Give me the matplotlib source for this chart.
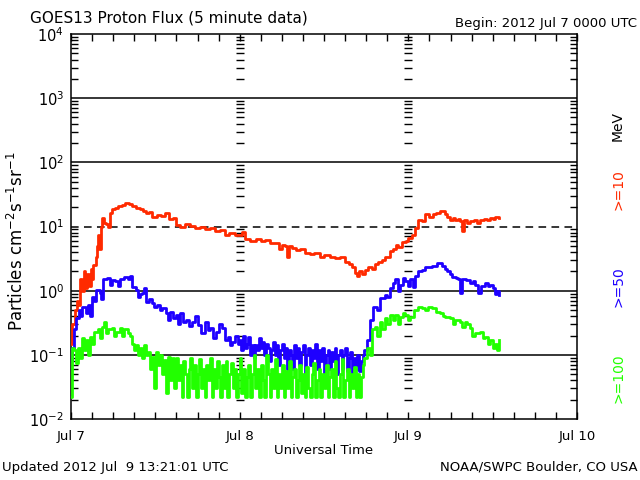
import matplotlib
matplotlib.use("Agg")
import matplotlib.pyplot as plt
import numpy as np
from matplotlib.ticker import FixedLocator, NullFormatter

# hours since 2012 Jul 7 00:00 UTC, flux (particles cm^-2 s^-1 sr^-1)
red_data = [
    (0.0, 0.15), (0.2, 0.3), (0.5, 0.5), (0.8, 0.7), (1.0, 0.6), (1.3, 1.5), (1.5, 1.0), (1.8, 2.0),
    (2.0, 1.1), (2.3, 1.8), (2.5, 1.2), (2.8, 2.2), (3.0, 1.5), (3.2, 2.5), (3.5, 3.4), (3.7, 4.9),
    (3.9, 7.5), (4.0, 4.4), (4.2, 10), (4.4, 13.4), (4.7, 11.5), (5.0, 11.0), (5.3, 10.0), (5.5, 16.5),
    (5.8, 18.5), (6.3, 19.5), (6.7, 20.5), (7.2, 22), (7.7, 23.5), (8.2, 22.5), (8.7, 21), (9.3, 19.5),
    (9.8, 18.5), (10.3, 17.5), (10.7, 16.5), (11.1, 17), (11.5, 14.3), (12.2, 15), (12.8, 14.5),
    (13.4, 16.5), (14.0, 12.9), (14.5, 13.5), (15.0, 10.7), (15.5, 10.0), (16.2, 10.8), (17.0, 10.2),
    (17.6, 9.5), (18.3, 10), (19.0, 9.2), (19.8, 9.6), (20.5, 8.5), (21.2, 8.8), (21.9, 7.5), (22.5, 7.8),
    (23.3, 7.5), (24.0, 7.5), (24.3, 8.1), (24.8, 6.5), (25.5, 6.0), (26.3, 6.3), (27.0, 6.0), (27.6, 6.2),
    (28.3, 5.5), (29.0, 5.6), (29.6, 4.4), (30.0, 5.2), (30.4, 4.9), (30.8, 3.4), (31.0, 5.0), (31.4, 4.7),
    (32.0, 4.3), (32.6, 4.5), (33.3, 3.9), (34.0, 3.7), (34.6, 3.8), (35.4, 3.4), (36.0, 3.6), (36.8, 3.4),
    (37.5, 3.2), (38.3, 3.3), (39.0, 2.8), (39.5, 2.6), (40.0, 2.3), (40.4, 1.9), (40.7, 1.7), (41.0, 2.0),
    (41.4, 1.8), (41.8, 2.1), (42.3, 2.3), (42.8, 2.2), (43.3, 2.6), (43.7, 2.8), (44.2, 3.0), (44.7, 3.4),
    (45.0, 3.3), (45.4, 4.1), (45.8, 4.5), (46.2, 5.2), (46.6, 4.8), (47.1, 5.8), (47.6, 6.0), (48.0, 6.7),
    (48.5, 7.5), (49.0, 9.6), (49.4, 12.8), (49.9, 12), (50.4, 15.4), (51.0, 14.3), (51.5, 15.5),
    (51.9, 16.5), (52.5, 17.2), (53.2, 15.4), (53.5, 14), (53.9, 12.8), (54.3, 13.5), (54.6, 12.8),
    (55.0, 13), (55.3, 12), (55.6, 8.4), (55.9, 12.5), (56.3, 11.5), (56.8, 12), (57.3, 12.5), (57.7, 11.5),
    (58.2, 12.8), (58.7, 13.2), (59.2, 12.5), (59.6, 13.8), (60.0, 13), (60.4, 14), (60.9, 13.8),
]

blue_data = [
    (0.0, 0.08), (0.2, 0.13), (0.4, 0.25), (0.7, 0.38), (1.1, 0.5), (1.4, 0.4), (1.6, 0.56), (2.1, 0.45),
    (2.4, 0.6), (2.7, 0.4), (3.0, 0.8), (3.3, 0.7), (3.6, 1.04), (4.1, 0.93), (4.3, 0.75), (4.6, 1.5),
    (5.1, 1.6), (5.5, 1.24), (5.9, 1.45), (6.3, 1.4), (6.7, 1.2), (7.0, 1.5), (7.5, 1.65), (8.1, 1.5),
    (8.4, 1.7), (8.7, 1.15), (9.2, 1.04), (9.5, 0.8), (9.8, 0.9), (10.1, 0.93), (10.4, 1.1), (10.7, 0.67),
    (11.1, 0.75), (11.5, 0.65), (11.8, 0.55), (12.2, 0.6), (12.6, 0.5), (13.0, 0.54), (13.5, 0.45),
    (13.8, 0.35), (14.1, 0.47), (14.5, 0.38), (14.9, 0.42), (15.2, 0.3), (15.5, 0.45), (16.0, 0.33),
    (16.4, 0.35), (16.8, 0.28), (17.2, 0.32), (17.6, 0.4), (18.1, 0.29), (18.5, 0.22), (19.1, 0.32),
    (19.5, 0.24), (19.8, 0.26), (20.2, 0.18), (20.6, 0.23), (21.0, 0.3), (21.5, 0.26), (21.9, 0.17),
    (22.3, 0.19), (22.6, 0.14), (22.9, 0.16), (23.4, 0.2), (23.7, 0.15),
    (24.0, 0.17), (24.25, 0.12), (24.5, 0.2), (24.75, 0.13), (25.0, 0.15), (25.25, 0.19), (25.5, 0.1),
    (25.75, 0.14), (26.0, 0.09), (26.25, 0.14), (26.5, 0.12), (26.75, 0.18), (27.0, 0.13), (27.25, 0.16),
    (27.5, 0.1), (27.75, 0.15), (28.0, 0.13), (28.25, 0.08), (28.5, 0.12), (28.75, 0.16), (29.0, 0.1),
    (29.25, 0.14), (29.5, 0.07), (29.75, 0.12), (30.0, 0.15), (30.25, 0.09), (30.5, 0.13), (30.75, 0.06),
    (31.0, 0.12), (31.25, 0.1), (31.5, 0.06), (31.75, 0.14), (32.0, 0.09), (32.25, 0.13), (32.5, 0.07),
    (32.75, 0.11), (33.0, 0.14), (33.25, 0.05), (33.5, 0.1), (33.75, 0.13), (34.0, 0.07), (34.25, 0.12),
    (34.5, 0.09), (34.75, 0.15), (35.0, 0.06), (35.25, 0.12), (35.5, 0.08), (35.75, 0.13), (36.0, 0.05),
    (36.25, 0.1), (36.5, 0.12), (36.75, 0.06), (37.0, 0.11), (37.25, 0.08), (37.5, 0.13), (37.75, 0.05),
    (38.0, 0.1), (38.25, 0.12), (38.5, 0.06), (38.75, 0.1), (39.0, 0.13), (39.25, 0.055), (39.5, 0.09),
    (39.75, 0.11), (40.0, 0.05), (40.25, 0.09), (40.5, 0.06), (40.75, 0.1), (41.0, 0.055), (41.25, 0.08),
    (41.5, 0.1), (41.75, 0.12),
    (42.1, 0.17), (42.5, 0.35), (43.0, 0.56), (43.5, 0.5), (44.0, 0.78), (44.7, 0.87), (45.0, 0.8),
    (45.4, 1.1), (45.8, 1.3), (46.1, 1.5), (46.5, 1.0), (46.8, 1.24), (47.2, 1.6), (47.5, 1.4), (47.9, 1.2),
    (48.2, 1.5), (48.6, 1.15), (49.0, 1.7), (49.4, 2.0), (49.9, 2.1), (50.4, 2.3), (51.0, 2.35),
    (51.4, 2.45), (52.1, 2.7), (52.8, 2.4), (53.2, 2.2), (53.5, 2.0), (53.9, 1.8), (54.2, 1.65),
    (54.8, 1.6), (55.1, 1.5), (55.3, 0.93), (55.6, 1.5), (56.2, 1.45), (56.8, 1.33), (57.2, 1.4),
    (57.5, 1.24), (57.9, 0.93), (58.3, 1.2), (58.9, 1.33), (59.3, 1.2), (59.6, 1.24), (60.0, 1.1),
    (60.3, 0.9), (60.6, 1.0), (60.9, 0.87),
]

green_data = [
    (0.0, 0.022), (0.2, 0.13), (0.4, 0.12), (0.7, 0.075), (1.0, 0.13), (1.3, 0.09), (1.6, 0.18),
    (1.9, 0.12), (2.1, 0.17), (2.4, 0.1), (2.7, 0.19), (3.0, 0.15), (3.3, 0.23), (3.8, 0.25), (4.1, 0.18),
    (4.4, 0.27), (4.7, 0.33), (5.0, 0.22), (5.3, 0.25), (5.8, 0.26), (6.1, 0.2), (6.4, 0.23), (7.0, 0.26),
    (7.3, 0.2), (7.5, 0.25), (8.1, 0.22), (8.4, 0.2), (8.7, 0.15), (9.0, 0.12), (9.2, 0.14), (9.5, 0.1),
    (9.8, 0.13), (10.1, 0.09), (10.4, 0.14), (10.7, 0.1), (11.0, 0.11), (11.3, 0.06), (11.5, 0.093),
    (11.8, 0.03), (12.1, 0.11), (12.4, 0.07), (12.7, 0.1), (13.0, 0.05), (13.2, 0.083), (13.5, 0.025),
    (13.8, 0.093), (14.1, 0.04), (14.4, 0.09), (14.7, 0.03), (14.9, 0.08),
    (15.0, 0.09), (15.25, 0.04), (15.5, 0.07), (15.75, 0.022), (16.0, 0.08), (16.25, 0.05), (16.5, 0.022),
    (16.75, 0.06), (17.0, 0.09), (17.25, 0.03), (17.5, 0.07), (17.75, 0.022), (18.0, 0.05), (18.25, 0.085),
    (18.5, 0.03), (18.75, 0.06), (19.0, 0.022), (19.25, 0.07), (19.5, 0.04), (19.75, 0.09), (20.0, 0.022),
    (20.25, 0.06), (20.5, 0.03), (20.75, 0.08), (21.0, 0.045), (21.25, 0.022), (21.5, 0.07), (21.75, 0.03),
    (22.0, 0.08), (22.25, 0.022), (22.5, 0.05), (22.75, 0.075), (23.0, 0.03), (23.25, 0.06), (23.5, 0.022),
    (23.75, 0.05), (24.0, 0.09), (24.25, 0.025), (24.5, 0.06), (24.75, 0.022), (25.0, 0.045), (25.25, 0.07),
    (25.5, 0.022), (25.75, 0.05), (26.0, 0.1), (26.25, 0.03), (26.5, 0.06), (26.75, 0.022), (27.0, 0.07),
    (27.25, 0.04), (27.5, 0.022), (27.75, 0.1), (28.0, 0.05), (28.25, 0.022), (28.5, 0.06), (28.75, 0.03),
    (29.0, 0.085), (29.25, 0.022), (29.5, 0.05), (29.75, 0.03), (30.0, 0.07), (30.25, 0.022), (30.5, 0.055),
    (30.75, 0.03), (31.0, 0.08), (31.25, 0.022), (31.5, 0.045), (31.75, 0.06), (32.0, 0.022), (32.25, 0.04),
    (32.5, 0.07), (32.75, 0.025), (33.0, 0.05), (33.25, 0.022), (33.5, 0.065), (33.75, 0.03), (34.0, 0.022),
    (34.25, 0.05), (34.5, 0.075), (34.75, 0.022), (35.0, 0.04), (35.25, 0.06), (35.5, 0.022), (35.75, 0.05),
    (36.0, 0.03), (36.25, 0.07), (36.5, 0.022), (36.75, 0.045), (37.0, 0.06), (37.25, 0.022), (37.5, 0.08),
    (37.75, 0.03), (38.0, 0.022), (38.25, 0.05), (38.5, 0.085), (38.75, 0.022), (39.0, 0.04), (39.25, 0.06),
    (39.5, 0.022), (39.75, 0.05), (40.0, 0.03), (40.25, 0.065), (40.5, 0.022), (40.75, 0.05), (41.0, 0.022),
    (41.25, 0.045), (41.5, 0.07), (41.75, 0.09),
    (42.1, 0.13), (42.5, 0.1), (42.8, 0.25), (43.2, 0.27), (43.5, 0.2), (44.0, 0.32), (44.3, 0.25),
    (44.7, 0.38), (45.0, 0.3), (45.4, 0.42), (45.8, 0.35), (46.1, 0.42), (46.5, 0.3), (46.8, 0.39),
    (47.2, 0.45), (47.5, 0.42), (47.9, 0.35), (48.2, 0.39), (48.8, 0.5), (49.4, 0.56), (49.9, 0.54),
    (50.4, 0.5), (50.8, 0.56), (51.4, 0.54), (51.9, 0.47), (52.5, 0.45), (52.9, 0.4), (53.2, 0.39),
    (53.9, 0.38), (54.3, 0.3), (54.6, 0.35), (55.3, 0.33), (55.6, 0.27), (56.0, 0.32), (56.4, 0.3),
    (56.8, 0.26), (57.1, 0.2), (57.5, 0.22), (58.2, 0.23), (58.6, 0.18), (58.9, 0.19), (59.3, 0.15),
    (59.6, 0.17), (60.0, 0.13), (60.3, 0.15), (60.6, 0.12), (60.9, 0.17),
]

day_ticks = [0, 24, 48, 72]
day_labels = ["Jul 7", "Jul 8", "Jul 9", "Jul 10"]
decades = [1e-2, 1e-1, 1e0, 1e1, 1e2, 1e3, 1e4]
decade_labels = [r"$10^{-2}$", r"$10^{-1}$", r"$10^{0}$", r"$10^{1}$", r"$10^{2}$", r"$10^{3}$", r"$10^{4}$"]

RED, BLUE, GREEN = "#ff2a00", "#1e00ff", "#22ff00"

fig = plt.figure(figsize=(6.4, 4.8), dpi=100)
ax = fig.add_axes([71/640, 1-419/480, (577-71)/640, (419-34)/480])

for data, col in [(red_data, RED), (blue_data, BLUE), (green_data, GREEN)]:
    t = [d[0] for d in data]
    v = [d[1] for d in data]
    ax.step(t, v, where="post", color=col, lw=2.0, zorder=3)

ax.set_yscale("log")
ax.set_xlim(0, 72)
ax.set_ylim(1e-2, 1e4)

# horizontal reference lines
for yv in [1e3, 1e2, 1e0, 1e-1]:
    ax.axhline(yv, color="k", lw=1.1, zorder=2)
ax.axhline(1e1, color="k", lw=1.1, dashes=(5, 3.5), zorder=2)

# log minor tick marks repeated at the day boundaries
minor_y = [k * 10.0**n for n in range(-2, 4) for k in range(2, 10)]
for xd in [24, 48]:
    ax.plot([xd] * len(minor_y), minor_y, ls="none", marker="_", ms=6, mew=1.0, color="k", zorder=2)

ax.xaxis.set_major_locator(FixedLocator(day_ticks))
ax.set_xticklabels(day_labels, fontsize=9.5)
ax.xaxis.set_minor_locator(FixedLocator([h for h in range(0, 73, 3)]))
ax.yaxis.set_major_locator(FixedLocator(decades))
ax.set_yticklabels(decade_labels, fontsize=10.5)
ax.yaxis.set_minor_locator(FixedLocator(minor_y))
ax.yaxis.set_minor_formatter(NullFormatter())
ax.tick_params(which="both", direction="in", top=True, right=True, width=1)
ax.tick_params(axis="x", which="both", length=5, pad=8)
ax.tick_params(axis="y", which="minor", length=5)
ax.tick_params(axis="y", which="major", length=0, pad=5)
for s in ax.spines.values():
    s.set_linewidth(1.1)

ax.set_xlabel("Universal Time", fontsize=9.5, labelpad=1)
fig.text(17/640, 1-241/480, r"Particles cm$^{-2}$s$^{-1}$sr$^{-1}$", rotation=90,
         ha="center", va="center", fontsize=12)

fig.text(30/640, 1-18/480, "GOES13 Proton Flux (5 minute data)", ha="left", va="center", fontsize=11)
fig.text(637/640, 1-23/480, "Begin: 2012 Jul 7 0000 UTC", ha="right", va="center", fontsize=9.5)
fig.text(2/640, 1-467/480, "Updated 2012 Jul  9 13:21:01 UTC", ha="left", va="center", fontsize=9.5)
fig.text(638/640, 1-467/480, "NOAA/SWPC Boulder, CO USA", ha="right", va="center", fontsize=9.5)

fig.text(618/640, 1-126/480, "MeV", rotation=90, ha="center", va="center", fontsize=10, color="k")
fig.text(618/640, 1-190/480, ">=10", rotation=90, ha="center", va="center", fontsize=10, color=RED)
fig.text(618/640, 1-287/480, ">=50", rotation=90, ha="center", va="center", fontsize=10, color=BLUE)
fig.text(618/640, 1-378/480, ">=100", rotation=90, ha="center", va="center", fontsize=10, color=GREEN)

fig.savefig("out.png", dpi=100)
